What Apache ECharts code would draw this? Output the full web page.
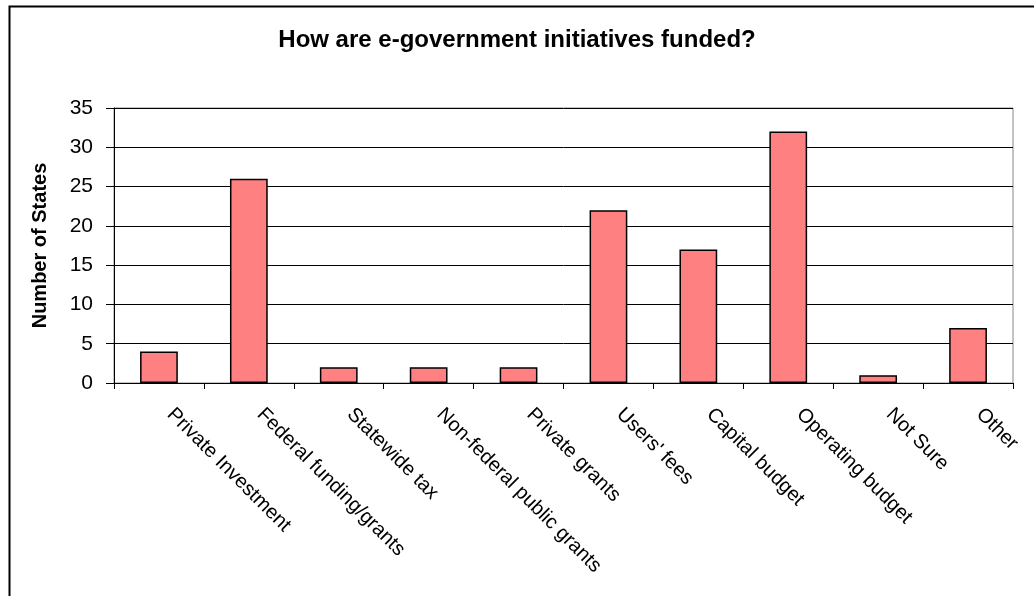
<!DOCTYPE html>
<html>
<head>
<meta charset="utf-8">
<script src="https://cdn.jsdelivr.net/npm/echarts@6/dist/echarts.min.js"></script>
<style>
html,body{margin:0;padding:0;background:#fff;}
#chart{width:1034px;height:596px;}
</style>
</head>
<body>
<div id="chart"></div>
<script>
const categories = ["Private Investment","Federal funding/grants","Statewide tax","Non-federal public grants","Private grants","Users' fees","Capital budget","Operating budget","Not Sure","Other"];
const states = [4, 26, 2, 2, 2, 22, 17, 32, 1, 7];
const yTicks = {min: 0, max: 35, interval: 5};
const titleText = "How are e-government initiatives funded?";
const yName = "Number of States";

const chart = echarts.init(document.getElementById('chart'), null, {renderer: 'canvas'});
const FONT = "Liberation Sans, Arial, sans-serif";
chart.setOption({
  animation: false,
  backgroundColor: '#fff',
  graphic: [{
    type: 'rect', left: 7, top: 4, z: 100,
    shape: {x: 0, y: 0, width: 1100, height: 700},
    style: {fill: 'none', stroke: '#000', lineWidth: 2}
  }],
  title: {
    text: titleText, left: 'center', top: 23,
    textStyle: {fontFamily: FONT, fontSize: 24, fontWeight: 'bold', color: '#000'}
  },
  grid: {left: 114, right: 21, top: 108, bottom: 213, show: true, borderColor: '#888', borderWidth: 1},
  xAxis: {
    type: 'category', data: categories,
    axisLine: {lineStyle: {color: '#000', width: 1}},
    axisTick: {show: true, length: 6, lineStyle: {color: '#000'}},
    axisLabel: {rotate: -45, margin: 17, padding: [0, 0, 0, 16], interval: 0, fontFamily: FONT, fontSize: 20, color: '#000'}
  },
  yAxis: {
    type: 'value', min: yTicks.min, max: yTicks.max, interval: yTicks.interval,
    name: yName, nameLocation: 'middle', nameGap: 64, nameRotate: 90,
    nameTextStyle: {fontFamily: FONT, fontSize: 20, fontWeight: 'bold', color: '#000'},
    axisLine: {show: true, lineStyle: {color: '#000', width: 1}},
    axisTick: {show: true, length: 8, lineStyle: {color: '#000'}},
    axisLabel: {margin: 21, fontFamily: FONT, fontSize: 21, color: '#000'},
    splitLine: {lineStyle: {color: '#000', width: 1}}
  },
  series: [{
    type: 'bar', data: states, barWidth: '42%',
    itemStyle: {color: '#FF8080', borderColor: '#000', borderWidth: 1.5}
  }]
});
</script>
</body>
</html>
